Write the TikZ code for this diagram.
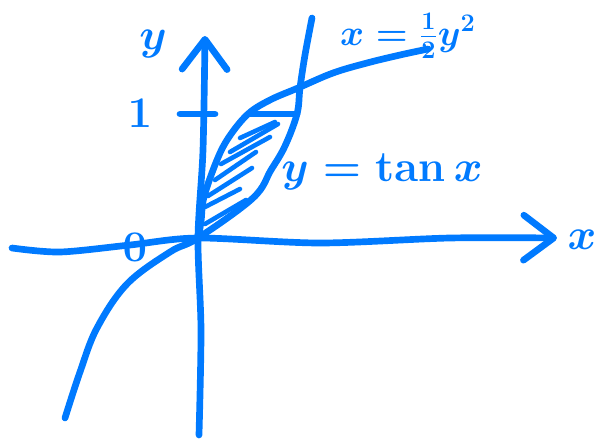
\documentclass[tikz,border=0pt]{standalone}
\usetikzlibrary{arrows.meta}
\definecolor{ink}{RGB}{0,122,255}
\tikzset{pen/.style={
    draw=ink,
    line width=3.8pt,
    line cap=round,
    line join=round
  },
  hatch/.style={pen,line width=2.6pt},
  tip/.style={-{Straight Barb[length=0.6cm,width=0.9cm,round]}},
  lbl/.style={text=ink,inner sep=0pt},
}

\begin{document}
\begin{tikzpicture}[x=0.02cm,y=-0.02cm]
  \useasboundingbox (0,0) rectangle (600,440);
  \coordinate (O) at (198,238);
  \coordinate (xl) at (12,248);
  \coordinate (xr) at (557,238);
  \coordinate (yb) at (199,435);
  \coordinate (yt) at (205,36);
  \coordinate (pa) at (248,114);
  \coordinate (pb) at (297,114);
  % axes
  \draw[pen,tip] plot[smooth] coordinates {(xl) (60,252) (130,245) (O) (320,243) (450,238) (xr)};
  \draw[pen,tip] plot[smooth] coordinates {(yb) (201,330) (O) (203,150) (yt)};
  % y = tan x
  \draw[pen] plot[smooth,tension=0.6] coordinates {(65,418) (80,372) (97,328) (127,284) (170,252) (O)
    (253,198) (271,170) (285,146) (pb) (300,88) (305,55) (312,18)};
  % x = y^2/2
  \draw[pen] plot[smooth,tension=0.6] coordinates {(O) (201,222) (204,197) (217,160) (229,137) (pa)
    (270,100) (298,88) (333,73) (367,63) (400,55) (428,49)};
  \draw[pen] (pa) -- (pb);
  \draw[pen] (180,114) -- (215,114);
  % hatching
  \foreach \a/\b/\c/\d in {205/224/246/200, 205/207/240/189, 208/196/252/168,
    215/180/256/152, 221/164/270/137, 230/152/278/124, 240/138/275/122}
    \draw[hatch] (\a,\b) -- (\c,\d);
  % labels
  \node[lbl,font=\fontsize{48}{52}\selectfont\boldmath] (ylab) at (153,44) {$y$};
  \node[lbl,font=\fontsize{30}{34}\selectfont\boldmath] (one) at (140,113) {$1$};
  \node[lbl,font=\fontsize{30}{34}\selectfont\boldmath] (zero) at (135,247) {$0$};
  \node[lbl,font=\fontsize{44}{48}\selectfont\boldmath] (xlab) at (582,240) {$x$};
  \node[lbl,font=\fontsize{21}{25}\selectfont\boldmath] (parlab) at (408,36) {$x=\frac{1}{2}y^2$};
  \node[lbl,font=\fontsize{23}{27}\selectfont\boldmath] (tanlab) at (382,172) {$y=\tan x$};
\end{tikzpicture}
\end{document}
